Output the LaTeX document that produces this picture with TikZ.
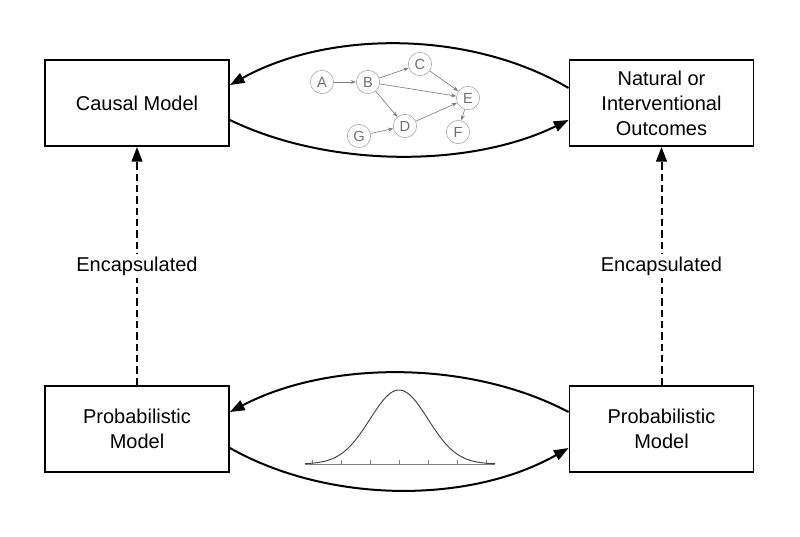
\documentclass[tikz,border=0pt]{standalone}
\usepackage{fontspec}
\setmainfont{Liberation Sans}
\usetikzlibrary{arrows.meta,positioning}
\definecolor{nodegray}{RGB}{160,160,160}

\begin{document}
\begin{tikzpicture}[x=0.75pt, y=-0.75pt,
    block/.style={draw, line width=1.4pt, minimum width=138pt, minimum height=64.5pt,
                  align=center, font=\fontsize{15}{18.75}\selectfont},
    var/.style={draw=nodegray, circle, minimum size=17.5pt, inner sep=0pt,
                text=nodegray!70!black, font=\fontsize{11}{13}\selectfont},
    dep/.style={-{Stealth[length=4pt, width=3pt]}, nodegray!80!black, line width=0.5pt},
    flow/.style={-{Triangle[length=11pt, width=8pt]}, line width=1.5pt},
    encap/.style={-{Triangle[length=11pt, width=8pt]}, dash pattern=on 5.5pt off 3pt, line width=1.5pt},
  ]
  \useasboundingbox (0,0) rectangle (800,536);

  \node[block] (causal) at (137,103) {Causal Model};
  \node[block] (outcome) at (661.5,103) {Natural or\\Interventional\\Outcomes};
  \node[block] (probl) at (137,429) {Probabilistic\\Model};
  \node[block] (probr) at (661.5,429) {Probabilistic\\Model};

  \draw[encap] (probl.north) -- node[fill=white, inner sep=2pt, font=\fontsize{15}{18}\selectfont] {Encapsulated} (causal.south);
  \draw[encap] (probr.north) -- node[fill=white, inner sep=2pt, font=\fontsize{15}{18}\selectfont] {Encapsulated} (outcome.south);

  \draw[flow] ([yshift=11.25pt]outcome.west) .. controls (470,30) and (329,30) .. ([yshift=13.5pt]causal.east);
  \draw[flow] ([yshift=-12.75pt]causal.east) .. controls (329,168) and (470,168) .. ([yshift=-12.75pt]outcome.west);
  \draw[flow] ([yshift=12.75pt]probr.west) .. controls (470,360) and (329,360) .. ([yshift=12.75pt]probl.east);
  \draw[flow] ([yshift=-14.25pt]probl.east) .. controls (329,504) and (470,504) .. ([yshift=-14.25pt]probr.west);

  \node[var] (a) at (322,82) {A};
  \node[var] (b) at (368,82) {B};
  \node[var] (c) at (420,64) {C};
  \node[var] (e) at (468,98) {E};
  \node[var] (d) at (405,126) {D};
  \node[var] (g) at (359,136) {G};
  \node[var] (f) at (458,132) {F};
  \draw[dep] (a) -- (b);
  \draw[dep] (b) -- (c);
  \draw[dep] (b) -- (e);
  \draw[dep] (b) -- (d);
  \draw[dep] (c) -- (e);
  \draw[dep] (d) -- (e);
  \draw[dep] (g) -- (d);
  \draw[dep] (e) -- (f);

  \draw[gray, line width=0.5pt] (305,464) -- (495,464);
  \foreach \k in {-3,...,3}
    \draw[gray, line width=0.4pt] (399+29*\k,464) -- (399+29*\k,460);
  \draw[black!75, line width=0.7pt] plot[domain=305:495, samples=90, smooth]
    (\x, {464-74*exp(-((\x-399)/29)^2/2)});
\end{tikzpicture}
\end{document}
